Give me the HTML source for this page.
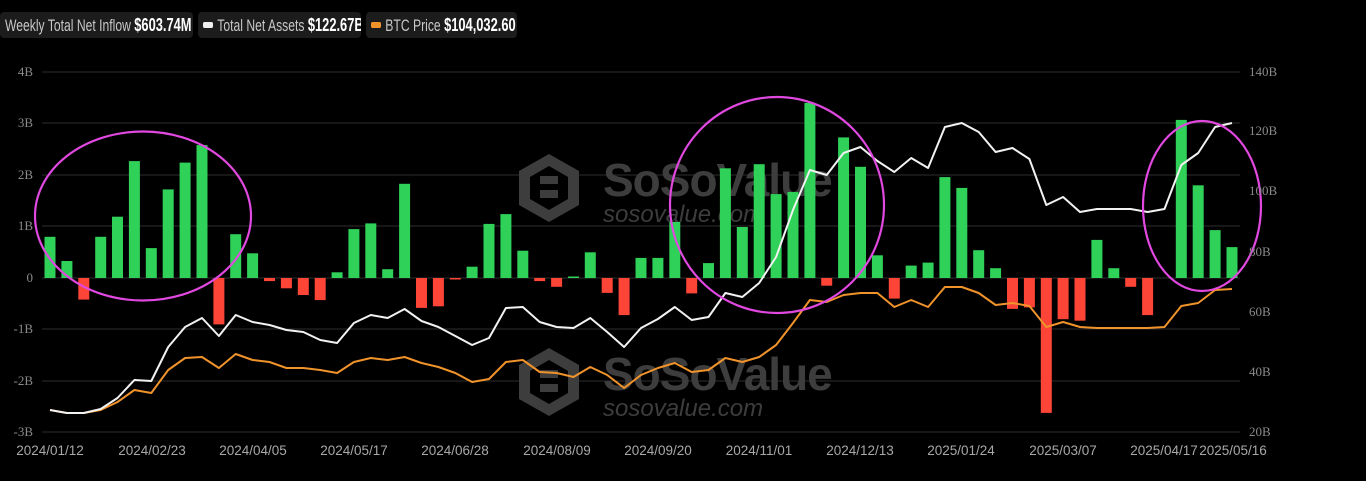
<!DOCTYPE html>
<html><head><meta charset="utf-8"><style>
html,body{margin:0;padding:0;background:#000;width:1366px;height:481px;overflow:hidden}
.lg{position:absolute;top:12px;height:26px;background:#1c1c1c;border-radius:4px;font-family:"Liberation Sans",sans-serif;font-size:17px;color:#c8c8c8;line-height:26px;white-space:nowrap;overflow:hidden}
.lg .in{display:inline-block;transform:scaleX(0.715);transform-origin:0 50%;padding-left:7px}
.lg b{color:#fff;font-size:18px}
.sw{display:inline-block;width:14px;height:6px;border-radius:2px;vertical-align:middle;margin-right:6px;position:relative;top:-2px}
</style></head><body>
<div class="lg" style="left:0;width:193px"><span class="in">Weekly Total Net Inflow <b>$603.74M</b></span></div>
<div class="lg" style="left:198px;width:163px"><span class="in"><span class="sw" style="background:#eee"></span>Total Net Assets <b>$122.67B</b></span></div>
<div class="lg" style="left:366px;width:151px"><span class="in"><span class="sw" style="background:#f0932b"></span>BTC Price <b>$104,032.60</b></span></div>
<svg id="s" width="1366" height="481" style="position:absolute;left:0;top:0" xmlns="http://www.w3.org/2000/svg">
<g stroke="#2e2e2e" stroke-width="1">
<line x1="42" x2="1240" y1="72" y2="72"/><line x1="42" x2="1240" y1="123" y2="123"/><line x1="42" x2="1240" y1="175" y2="175"/><line x1="42" x2="1240" y1="226" y2="226"/><line x1="42" x2="1240" y1="278" y2="278"/><line x1="42" x2="1240" y1="329" y2="329"/><line x1="42" x2="1240" y1="381" y2="381"/><line x1="42" x2="1240" y1="432" y2="432"/>
</g>
<g fill="#3d3d3d">
<g transform="translate(549,188)"><polygon points="0,-34 30,-17 30,17 0,34 -30,17 -30,-17"/><polygon points="0,-22 19,-11 19,11 0,22 -19,11 -19,-11" fill="#000"/><rect x="-9" y="-12" width="18" height="8" fill="#3d3d3d"/><rect x="-9" y="2" width="18" height="8" fill="#3d3d3d"/></g>
<text x="603" y="196" font-family="Liberation Sans,sans-serif" font-weight="bold" font-size="46" letter-spacing="-1">SoSoValue</text>
<text x="603" y="222" font-family="Liberation Sans,sans-serif" font-style="italic" font-size="24">sosovalue.com</text>
<g transform="translate(549,382)"><polygon points="0,-34 30,-17 30,17 0,34 -30,17 -30,-17"/><polygon points="0,-22 19,-11 19,11 0,22 -19,11 -19,-11" fill="#000"/><rect x="-9" y="-12" width="18" height="8" fill="#3d3d3d"/><rect x="-9" y="2" width="18" height="8" fill="#3d3d3d"/></g>
<text x="603" y="390" font-family="Liberation Sans,sans-serif" font-weight="bold" font-size="46" letter-spacing="-1">SoSoValue</text>
<text x="603" y="416" font-family="Liberation Sans,sans-serif" font-style="italic" font-size="24">sosovalue.com</text>
</g>
<g id="bars"></g>
<polyline id="or" fill="none" stroke="#f0932b" stroke-width="2" stroke-linejoin="round"/>
<polyline id="wh" fill="none" stroke="#f2f2f2" stroke-width="2" stroke-linejoin="round"/>
<g fill="none" stroke="#e048e0" stroke-width="2.2">
<ellipse cx="143" cy="216" rx="108" ry="84.5"/>
<ellipse cx="777" cy="205" rx="107" ry="108"/>
<ellipse cx="1202" cy="206" rx="59" ry="85"/>
</g>
<g font-family="Liberation Serif,serif" font-size="13" fill="#8a8a8a" text-anchor="end">
<text x="33" y="76">4B</text><text x="33" y="127">3B</text><text x="33" y="179">2B</text><text x="33" y="230">1B</text><text x="33" y="282">0</text><text x="33" y="333">-1B</text><text x="33" y="385">-2B</text><text x="33" y="436">-3B</text>
</g>
<g font-family="Liberation Serif,serif" font-size="13" fill="#8a8a8a">
<text x="1249" y="76">140B</text><text x="1249" y="135">120B</text><text x="1249" y="195">100B</text><text x="1249" y="256">80B</text><text x="1249" y="316">60B</text><text x="1249" y="376">40B</text><text x="1249" y="436">20B</text>
</g>
<g font-family="Liberation Sans,sans-serif" font-size="13.5" fill="#a8a8a8" text-anchor="middle">
<text x="50" y="455">2024/01/12</text><text x="152" y="455">2024/02/23</text><text x="253" y="455">2024/04/05</text><text x="354" y="455">2024/05/17</text><text x="455" y="455">2024/06/28</text><text x="557" y="455">2024/08/09</text><text x="658" y="455">2024/09/20</text><text x="759" y="455">2024/11/01</text><text x="860" y="455">2024/12/13</text><text x="961" y="455">2025/01/24</text><text x="1063" y="455">2025/03/07</text><text x="1164" y="455">2025/04/17</text><text x="1233" y="455">2025/05/16</text>
</g>
</svg>
<script>
var v=[0.8,0.33,-0.42,0.8,1.19,2.27,0.58,1.72,2.24,2.58,-0.9,0.85,0.48,-0.06,-0.2,-0.33,-0.43,0.11,0.95,1.06,0.17,1.83,-0.58,-0.55,-0.02,0.22,1.05,1.24,0.53,-0.06,-0.17,0.02,0.5,-0.29,-0.72,0.39,0.39,1.09,-0.3,0.29,2.13,0.99,2.21,1.63,1.67,3.4,-0.15,2.73,2.16,0.44,-0.4,0.24,0.3,1.96,1.75,0.54,0.19,-0.6,-0.57,-2.62,-0.8,-0.83,0.74,0.19,-0.17,-0.72,0,3.07,1.8,0.93,0.6];
var w=[410,413,413,409,398,380,381,347,327,318,336,315,322,325,330,332,340,343,323,315,318,309,321,327,336,345,338,308,307,322,327,328,318,332,347,328,319,307,320,317,293,297,283,257,210,170,175,153,147,161,172,158,168,127,123,132,152,148,159,205,197,212,209,209,209,212,209,165,153,127,123];
var o=[410,413,413,410,402,390,393,370,358,357,368,354,360,362,368,368,370,373,362,358,360,357,363,367,373,382,379,362,360,372,373,377,367,375,388,375,368,363,372,370,358,362,357,345,323,300,302,295,293,293,307,300,307,287,287,293,305,303,306,327,322,327,328,328,328,328,327,306,303,290,289];
var s=1182/70,h='',pw='',po='';
for(var i=0;i<71;i++){var x=50+s*i;if(v[i]!=0){var hh=Math.abs(v[i])*51.5;if(hh<1.5)hh=1.5;var y=v[i]>0?278-hh:278;h+='<rect x="'+(x-5.5).toFixed(1)+'" y="'+y.toFixed(1)+'" width="11" height="'+hh.toFixed(1)+'" fill="'+(v[i]>0?'#2fd158':'#fc4437')+'"/>';}
pw+=x.toFixed(1)+','+w[i]+' ';po+=x.toFixed(1)+','+o[i]+' ';}
document.getElementById('bars').innerHTML=h;
document.getElementById('wh').setAttribute('points',pw);
document.getElementById('or').setAttribute('points',po);
</script>
</body></html>
